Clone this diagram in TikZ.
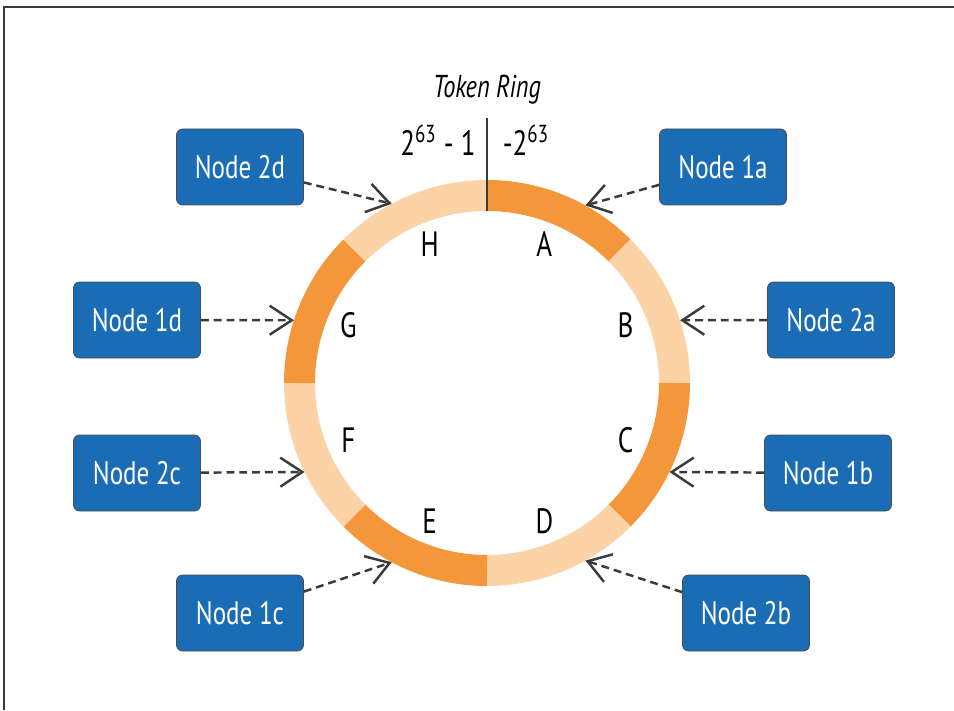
\documentclass[tikz,border=0pt]{standalone}
\usepackage{fontspec}
\setmainfont[FakeStretch=0.77]{PT Sans}
\usepackage{xcolor}
\usepackage{tikz}
\usetikzlibrary{arrows.meta}

\definecolor{ringdark}{HTML}{F4963A}
\definecolor{ringlight}{HTML}{FBD3A7}
\definecolor{boxblue}{HTML}{1A6DB4}
\definecolor{linegray}{HTML}{3A3A3A}

\begin{document}
\begin{tikzpicture}[
    hostbox/.style = {draw = gray!60!black, fill = boxblue, rounded corners = 0.12cm,
        minimum width = 2.54cm, minimum height = 1.52cm, text = white,
        font = \fontsize{18.5}{20}\selectfont},
    seglabel/.style = {font = \fontsize{20}{22}\selectfont},
    tokenarrow/.style = {linegray, line width = 1.4pt, dash pattern = on 4.5pt off 2.8pt,
        -{Straight Barb[length = 0.44cm, width = 0.58cm, line width = 1.4pt]}}
    ]
    \useasboundingbox (-9.74, -6.54) rectangle (9.34, 7.66);
    \draw[linegray, line width = 1.1pt] (-9.66, -6.54) -- (-9.66, 7.52) -- (9.34, 7.52);

    % ring segments
    \foreach \a/\c in {90/ringdark, 45/ringlight, 0/ringdark, -45/ringlight,
        -90/ringdark, -135/ringlight, 180/ringdark, 135/ringlight}
        \draw[line width = 0.62cm, \c] (\a:3.75) arc[start angle = \a, delta angle = -45, radius = 3.75];
    \node[circle, minimum size = 8.12cm, inner sep = 0pt, outer sep = 0pt] (ring) at (0, 0) {};

    \foreach \l [count = \i] in {A, B, C, D, E, F, G, H}
        \node[seglabel] (seg\l) at ({112.5 - 45*\i}:3.0) {\l};

    \coordinate (ringtop) at (0, 3.44);
    \draw[linegray, line width = 1.2pt] (ringtop) -- (0, 5.3);
    \node[font = \fontsize{18}{20}\selectfont\itshape] (title) at (0, 5.86) {Token Ring};
    \node[font = \fontsize{20}{22}\selectfont] (maxtok) at (-0.98, 4.86) {2\textsuperscript{63} - 1};
    \node[font = \fontsize{20}{22}\selectfont] (mintok) at (0.78, 4.86) {-2\textsuperscript{63}};

    \node[hostbox] (n2d) at (-4.94, 4.32) {Node 2d};
    \node[hostbox] (n1a) at (4.72, 4.32) {Node 1a};
    \node[hostbox] (n1d) at (-7.0, 1.26) {Node 1d};
    \node[hostbox] (n2a) at (6.88, 1.26) {Node 2a};
    \node[hostbox] (n2c) at (-7.0, -1.8) {Node 2c};
    \node[hostbox] (n1b) at (6.82, -1.8) {Node 1b};
    \node[hostbox] (n1c) at (-4.94, -4.6) {Node 1c};
    \node[hostbox] (n2b) at (5.18, -4.6) {Node 2b};

    \draw[tokenarrow] (n2d) -- (ring.118.6);
    \draw[tokenarrow] (n1a) -- (ring.61.5);
    \draw[tokenarrow] (n1d) -- (ring.162);
    \draw[tokenarrow] (n2a) -- (ring.18);
    \draw[tokenarrow] (n2c) -- (ring.206.3);
    \draw[tokenarrow] (n1b) -- (ring.-26.3);
    \draw[tokenarrow] (n1c) -- (ring.-118);
    \draw[tokenarrow] (n2b) -- (ring.-61.4);
\end{tikzpicture}
\end{document}
